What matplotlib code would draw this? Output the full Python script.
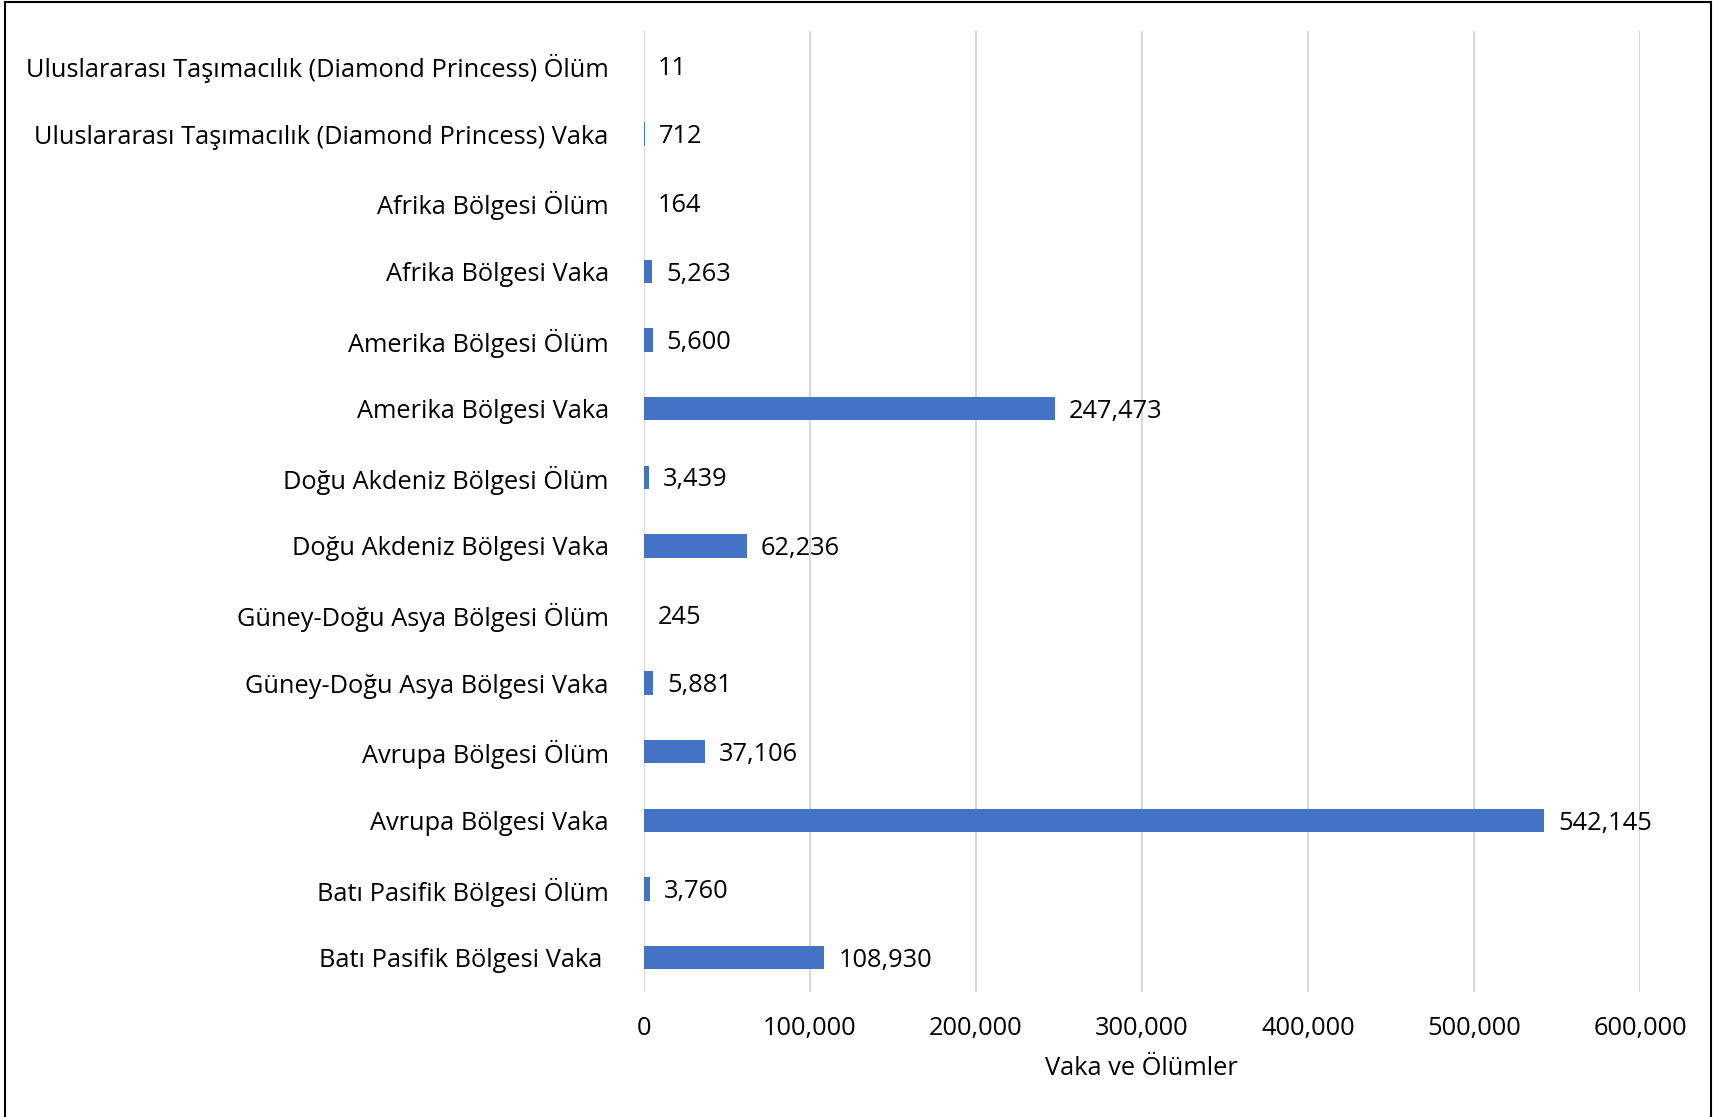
import matplotlib.pyplot as plt
from matplotlib.patches import Rectangle

categories = [
    "Batı Pasifik Bölgesi Vaka ",
    "Batı Pasifik Bölgesi Ölüm",
    "Avrupa Bölgesi Vaka",
    "Avrupa Bölgesi Ölüm",
    "Güney-Doğu Asya Bölgesi Vaka",
    "Güney-Doğu Asya Bölgesi Ölüm",
    "Doğu Akdeniz Bölgesi Vaka",
    "Doğu Akdeniz Bölgesi Ölüm",
    "Amerika Bölgesi Vaka",
    "Amerika Bölgesi Ölüm",
    "Afrika Bölgesi Vaka",
    "Afrika Bölgesi Ölüm",
    "Uluslararası Taşımacılık (Diamond Princess) Vaka",
    "Uluslararası Taşımacılık (Diamond Princess) Ölüm",
]
values = [108930, 3760, 542145, 37106, 5881, 245, 62236, 3439,
          247473, 5600, 5263, 164, 712, 11]
xticks = [0, 100000, 200000, 300000, 400000, 500000, 600000]

FS = 18.3
plt.rcParams["font.family"] = ["Open Sans", "DejaVu Sans"]
plt.rcParams["font.size"] = FS

fig = plt.figure(figsize=(17.13, 11.17), dpi=100)
ax = fig.add_axes([0.3757, 0.1119, 0.5817, 0.8603])

ypos = range(len(categories))
ax.barh(ypos, values, height=0.34, color="#4472C4", zorder=3)

for y, v in zip(ypos, values):
    ax.annotate(f"{v:,}", (v, y), xytext=(10, -2), textcoords="offset points",
                va="center", ha="left", fontsize=FS)

ax.set_xlim(0, 600000)
ax.set_ylim(-0.5, len(categories) - 0.5)
ax.set_yticks(list(ypos))
ax.set_yticklabels(categories)
ax.set_xticks(xticks)
ax.set_xticklabels([f"{t:,}" for t in xticks])
ax.tick_params(axis="both", length=0)
ax.tick_params(axis="y", pad=25)
ax.tick_params(axis="x", pad=17)
ax.grid(axis="x", color="#D9D9D9", linewidth=1.5, zorder=0)
ax.axvline(0, color="#D9D9D9", linewidth=1.5, zorder=1)
for s in ax.spines.values():
    s.set_visible(False)
ax.set_xlabel("Vaka ve Ölümler", fontsize=FS, labelpad=11)

fig.patches.append(Rectangle((5 / 1713, -0.02), 1706 / 1713, 1.02 - 2 / 1117,
                             transform=fig.transFigure, fill=False,
                             edgecolor="black", linewidth=1.5))

fig.savefig("out.png", dpi=100)
